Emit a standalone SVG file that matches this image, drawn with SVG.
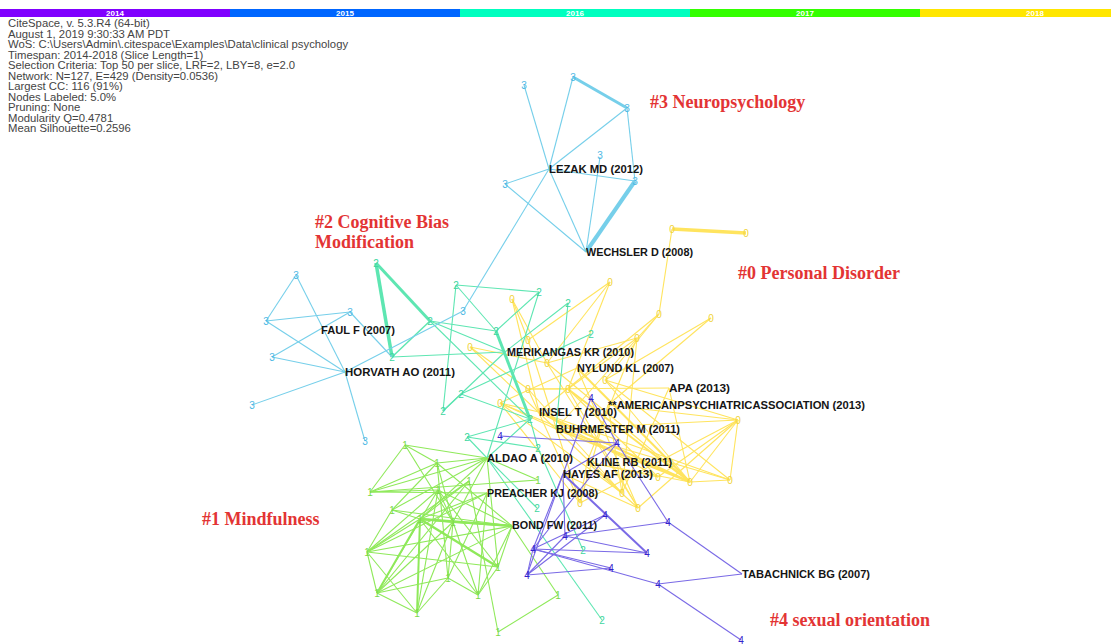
<svg xmlns="http://www.w3.org/2000/svg" width="1111" height="644" viewBox="0 0 1111 644">
<style>
.hd{font-family:"Liberation Sans",Arial,sans-serif;font-size:11.3px;fill:#444}
.yr{font-family:"Liberation Sans",Arial,sans-serif;font-size:8px;font-weight:bold;fill:#fff;text-anchor:middle}
.cl{font-family:"Liberation Serif","Times New Roman",serif;font-size:18px;font-weight:bold;fill:#e33434}
.lb{font-family:"Liberation Sans",Arial,sans-serif;font-size:11px;font-weight:bold;fill:#151515}
.dg{font-family:"Liberation Sans",Arial,sans-serif;font-size:10px;text-anchor:middle}
.d0{fill:#efd33a}.d1{fill:#7bd94a}.d2{fill:#3ed6a0}.d3{fill:#4db8e4}.d4{fill:#3322cc}
.e0 line{stroke:#ffe45e;stroke-width:1.1}
.e1 line{stroke:#8fe95a;stroke-width:1.1}
.e2 line{stroke:#5ee6b2;stroke-width:1.1}
.e3 line{stroke:#76cfea;stroke-width:1.1}
.e4 line{stroke:#7a6ae6;stroke-width:1.1}
</style>
<rect width="1111" height="644" fill="#fff"/>
<g id="timebar">
<rect x="0" y="9" width="230" height="8" fill="#8000ff"/>
<rect x="230" y="9" width="230" height="8" fill="#0066ff"/>
<rect x="460" y="9" width="230" height="8" fill="#00ffbf"/>
<rect x="690" y="9" width="230" height="8" fill="#33ff00"/>
<rect x="920" y="9" width="191" height="8" fill="#ffe600"/>
<text class="yr" x="115" y="16">2014</text>
<text class="yr" x="345" y="16">2015</text>
<text class="yr" x="575" y="16">2016</text>
<text class="yr" x="805" y="16">2017</text>
<text class="yr" x="1035" y="16">2018</text>
</g>
<g id="header">
<text class="hd" x="8" y="27">CiteSpace, v. 5.3.R4 (64-bit)</text>
<text class="hd" x="8" y="37.5">August 1, 2019 9:30:33 AM PDT</text>
<text class="hd" x="8" y="48">WoS: C:\Users\Admin\.citespace\Examples\Data\clinical psychology</text>
<text class="hd" x="8" y="58.5">Timespan: 2014-2018 (Slice Length=1)</text>
<text class="hd" x="8" y="69">Selection Criteria: Top 50 per slice, LRF=2, LBY=8, e=2.0</text>
<text class="hd" x="8" y="79.5">Network: N=127, E=429 (Density=0.0536)</text>
<text class="hd" x="8" y="90">Largest CC: 116 (91%)</text>
<text class="hd" x="8" y="100.5">Nodes Labeled: 5.0%</text>
<text class="hd" x="8" y="111">Pruning: None</text>
<text class="hd" x="8" y="121.5">Modularity Q=0.4781</text>
<text class="hd" x="8" y="132">Mean Silhouette=0.2596</text>
</g>
<g id="edges">
<g class="e0">
<line x1="672" y1="229" x2="746" y2="233" style="stroke-width:3.5"/>
<line x1="672" y1="229" x2="659" y2="314"/>
<line x1="659" y1="314" x2="556" y2="429"/>
<line x1="659" y1="314" x2="539" y2="412"/>
<line x1="659" y1="314" x2="605" y2="380"/>
<line x1="610" y1="282" x2="528" y2="340"/>
<line x1="610" y1="282" x2="568" y2="389"/>
<line x1="610" y1="282" x2="547" y2="363"/>
<line x1="512" y1="299" x2="547" y2="363"/>
<line x1="512" y1="299" x2="528" y2="340"/>
<line x1="512" y1="299" x2="539" y2="412"/>
<line x1="711" y1="318" x2="605" y2="380"/>
<line x1="711" y1="318" x2="608" y2="405"/>
<line x1="637" y1="338" x2="547" y2="363"/>
<line x1="637" y1="338" x2="568" y2="389"/>
<line x1="637" y1="338" x2="622" y2="493"/>
<line x1="637" y1="338" x2="587" y2="462"/>
<line x1="470" y1="347" x2="547" y2="363"/>
<line x1="470" y1="347" x2="556" y2="429"/>
<line x1="470" y1="347" x2="528" y2="389"/>
<line x1="528" y1="340" x2="580" y2="503"/>
<line x1="547" y1="363" x2="690" y2="482"/>
<line x1="547" y1="363" x2="638" y2="508"/>
<line x1="528" y1="389" x2="568" y2="389"/>
<line x1="528" y1="389" x2="669" y2="388"/>
<line x1="528" y1="389" x2="622" y2="493"/>
<line x1="528" y1="389" x2="580" y2="503"/>
<line x1="568" y1="389" x2="690" y2="482" style="stroke-width:2"/>
<line x1="568" y1="389" x2="658" y2="477"/>
<line x1="568" y1="389" x2="638" y2="508"/>
<line x1="500" y1="403" x2="539" y2="412"/>
<line x1="500" y1="403" x2="556" y2="429"/>
<line x1="500" y1="403" x2="622" y2="493"/>
<line x1="500" y1="403" x2="580" y2="503"/>
<line x1="500" y1="403" x2="690" y2="482"/>
<line x1="605" y1="380" x2="690" y2="482"/>
<line x1="605" y1="380" x2="730" y2="480"/>
<line x1="738" y1="420" x2="690" y2="482"/>
<line x1="738" y1="420" x2="730" y2="480"/>
<line x1="738" y1="420" x2="658" y2="477"/>
<line x1="738" y1="420" x2="638" y2="508"/>
<line x1="738" y1="420" x2="605" y2="380"/>
<line x1="738" y1="420" x2="608" y2="405"/>
<line x1="738" y1="420" x2="580" y2="503"/>
<line x1="730" y1="480" x2="690" y2="482"/>
<line x1="658" y1="477" x2="587" y2="462"/>
<line x1="622" y1="493" x2="556" y2="429"/>
<line x1="638" y1="508" x2="563" y2="474"/>
<line x1="580" y1="503" x2="587" y2="462"/>
<line x1="577" y1="368" x2="690" y2="482" style="stroke-width:2"/>
<line x1="577" y1="368" x2="638" y2="508"/>
<line x1="577" y1="368" x2="500" y2="403"/>
<line x1="669" y1="388" x2="690" y2="482"/>
<line x1="669" y1="388" x2="622" y2="493"/>
<line x1="608" y1="405" x2="622" y2="493"/>
<line x1="608" y1="405" x2="580" y2="503"/>
<line x1="539" y1="412" x2="730" y2="480"/>
<line x1="539" y1="412" x2="658" y2="477"/>
<line x1="539" y1="412" x2="690" y2="482" style="stroke-width:2"/>
<line x1="556" y1="429" x2="730" y2="480"/>
<line x1="556" y1="429" x2="738" y2="420"/>
<line x1="556" y1="429" x2="690" y2="482" style="stroke-width:2"/>
<line x1="587" y1="462" x2="690" y2="482"/>
<line x1="587" y1="462" x2="638" y2="508"/>
</g>
<g class="e2">
<line x1="376" y1="263" x2="392" y2="357" style="stroke-width:3.5"/>
<line x1="376" y1="263" x2="430" y2="321" style="stroke-width:3"/>
<line x1="430" y1="321" x2="392" y2="357" style="stroke-width:1.5"/>
<line x1="430" y1="321" x2="496" y2="331"/>
<line x1="430" y1="321" x2="505" y2="352"/>
<line x1="430" y1="321" x2="530" y2="419"/>
<line x1="392" y1="357" x2="505" y2="352"/>
<line x1="456" y1="285" x2="539" y2="292"/>
<line x1="456" y1="285" x2="496" y2="331"/>
<line x1="456" y1="285" x2="443" y2="411"/>
<line x1="539" y1="292" x2="487" y2="458"/>
<line x1="539" y1="292" x2="496" y2="331"/>
<line x1="568" y1="303" x2="505" y2="352"/>
<line x1="568" y1="303" x2="556" y2="429"/>
<line x1="591" y1="334" x2="461" y2="394"/>
<line x1="496" y1="331" x2="530" y2="419" style="stroke-width:3"/>
<line x1="461" y1="394" x2="443" y2="411"/>
<line x1="461" y1="394" x2="530" y2="419"/>
<line x1="443" y1="411" x2="505" y2="352"/>
<line x1="467" y1="437" x2="530" y2="419"/>
<line x1="467" y1="437" x2="538" y2="448"/>
<line x1="467" y1="437" x2="487" y2="458"/>
<line x1="487" y1="458" x2="537" y2="508"/>
<line x1="487" y1="458" x2="602" y2="620"/>
<line x1="538" y1="448" x2="583" y2="550"/>
<line x1="530" y1="419" x2="538" y2="448"/>
<line x1="530" y1="419" x2="487" y2="458"/>
</g>
<g class="e1">
<line x1="405" y1="445" x2="370" y2="492"/>
<line x1="405" y1="445" x2="487" y2="458"/>
<line x1="405" y1="445" x2="437" y2="463"/>
<line x1="405" y1="445" x2="453" y2="522"/>
<line x1="437" y1="463" x2="487" y2="458"/>
<line x1="437" y1="463" x2="370" y2="492"/>
<line x1="437" y1="463" x2="453" y2="522"/>
<line x1="437" y1="463" x2="448" y2="578"/>
<line x1="437" y1="463" x2="512" y2="526"/>
<line x1="370" y1="492" x2="487" y2="458"/>
<line x1="370" y1="492" x2="487" y2="493"/>
<line x1="370" y1="492" x2="538" y2="480"/>
<line x1="370" y1="492" x2="438" y2="490"/>
<line x1="392" y1="510" x2="437" y2="463"/>
<line x1="392" y1="510" x2="487" y2="458"/>
<line x1="392" y1="510" x2="512" y2="526"/>
<line x1="392" y1="510" x2="420" y2="519"/>
<line x1="392" y1="510" x2="367" y2="552"/>
<line x1="469" y1="481" x2="420" y2="519"/>
<line x1="469" y1="481" x2="367" y2="552"/>
<line x1="469" y1="481" x2="377" y2="593"/>
<line x1="469" y1="481" x2="498" y2="632"/>
<line x1="438" y1="490" x2="512" y2="526"/>
<line x1="438" y1="490" x2="367" y2="552"/>
<line x1="438" y1="490" x2="417" y2="613"/>
<line x1="487" y1="458" x2="420" y2="519"/>
<line x1="487" y1="458" x2="453" y2="522"/>
<line x1="487" y1="458" x2="498" y2="567"/>
<line x1="487" y1="458" x2="538" y2="480"/>
<line x1="487" y1="493" x2="420" y2="519"/>
<line x1="487" y1="493" x2="367" y2="552"/>
<line x1="487" y1="493" x2="448" y2="578"/>
<line x1="487" y1="493" x2="478" y2="595"/>
<line x1="512" y1="526" x2="420" y2="519" style="stroke-width:2.5"/>
<line x1="512" y1="526" x2="367" y2="552"/>
<line x1="512" y1="526" x2="377" y2="593"/>
<line x1="512" y1="526" x2="453" y2="522" style="stroke-width:2"/>
<line x1="512" y1="526" x2="498" y2="567"/>
<line x1="512" y1="526" x2="478" y2="595"/>
<line x1="512" y1="526" x2="558" y2="595"/>
<line x1="420" y1="519" x2="417" y2="613" style="stroke-width:2"/>
<line x1="420" y1="519" x2="498" y2="567" style="stroke-width:2.5"/>
<line x1="420" y1="519" x2="478" y2="595"/>
<line x1="420" y1="519" x2="377" y2="593" style="stroke-width:2"/>
<line x1="420" y1="519" x2="453" y2="522" style="stroke-width:2"/>
<line x1="420" y1="519" x2="367" y2="552"/>
<line x1="367" y1="552" x2="377" y2="593"/>
<line x1="367" y1="552" x2="417" y2="613"/>
<line x1="367" y1="552" x2="498" y2="567"/>
<line x1="377" y1="593" x2="417" y2="613"/>
<line x1="377" y1="593" x2="438" y2="490"/>
<line x1="377" y1="593" x2="453" y2="522"/>
<line x1="417" y1="613" x2="448" y2="578"/>
<line x1="417" y1="613" x2="453" y2="522"/>
<line x1="478" y1="595" x2="453" y2="522"/>
<line x1="478" y1="595" x2="498" y2="567"/>
<line x1="478" y1="595" x2="448" y2="578"/>
<line x1="498" y1="567" x2="438" y2="490"/>
<line x1="453" y1="522" x2="448" y2="578"/>
<line x1="448" y1="578" x2="377" y2="593"/>
<line x1="558" y1="595" x2="498" y2="632"/>
<line x1="438" y1="490" x2="453" y2="522"/>
</g>
<g class="e3">
<line x1="524" y1="85" x2="549" y2="169"/>
<line x1="549" y1="169" x2="586" y2="252"/>
<line x1="573" y1="77" x2="627" y2="108" style="stroke-width:3"/>
<line x1="573" y1="77" x2="549" y2="169"/>
<line x1="627" y1="108" x2="549" y2="169"/>
<line x1="627" y1="108" x2="635" y2="181"/>
<line x1="549" y1="169" x2="635" y2="181"/>
<line x1="635" y1="181" x2="586" y2="252" style="stroke-width:4"/>
<line x1="505" y1="184" x2="549" y2="169"/>
<line x1="505" y1="184" x2="586" y2="252"/>
<line x1="600" y1="157" x2="586" y2="252"/>
<line x1="549" y1="169" x2="463" y2="311"/>
<line x1="463" y1="311" x2="345" y2="372"/>
<line x1="296" y1="275" x2="266" y2="321"/>
<line x1="296" y1="275" x2="345" y2="372"/>
<line x1="345" y1="372" x2="365" y2="441"/>
<line x1="266" y1="321" x2="350" y2="312"/>
<line x1="266" y1="321" x2="345" y2="372"/>
<line x1="272" y1="357" x2="350" y2="312"/>
<line x1="272" y1="357" x2="345" y2="372"/>
<line x1="252" y1="405" x2="345" y2="372"/>
<line x1="350" y1="312" x2="392" y2="357"/>
</g>
<g class="e4">
<line x1="500" y1="436" x2="617" y2="443"/>
<line x1="591" y1="398" x2="617" y2="443"/>
<line x1="591" y1="398" x2="563" y2="474"/>
<line x1="617" y1="443" x2="563" y2="474"/>
<line x1="617" y1="443" x2="533" y2="549"/>
<line x1="617" y1="443" x2="668" y2="522"/>
<line x1="563" y1="474" x2="533" y2="549"/>
<line x1="563" y1="474" x2="527" y2="575"/>
<line x1="563" y1="474" x2="647" y2="553" style="stroke-width:2"/>
<line x1="563" y1="474" x2="565" y2="536"/>
<line x1="565" y1="536" x2="668" y2="522"/>
<line x1="533" y1="549" x2="605" y2="515"/>
<line x1="533" y1="549" x2="647" y2="553"/>
<line x1="533" y1="549" x2="611" y2="568"/>
<line x1="533" y1="549" x2="658" y2="584"/>
<line x1="527" y1="575" x2="533" y2="549"/>
<line x1="527" y1="575" x2="605" y2="515"/>
<line x1="527" y1="575" x2="565" y2="536"/>
<line x1="527" y1="575" x2="611" y2="568"/>
<line x1="668" y1="522" x2="742" y2="574"/>
<line x1="658" y1="584" x2="742" y2="574"/>
<line x1="658" y1="584" x2="741" y2="640"/>
<line x1="565" y1="536" x2="647" y2="553"/>
</g>
</g>
<g id="nodes">
<g id="c3-1"><text class="dg d3" x="524" y="89">3</text></g>
<g id="c3-2"><text class="dg d3" x="573" y="81">3</text></g>
<g id="c3-3"><text class="dg d3" x="627" y="112">3</text></g>
<g id="c3-4"><text class="dg d3" x="600" y="159">3</text></g>
<g id="c3-5"><text class="dg d3" x="635" y="185">3</text></g>
<g id="c3-6"><text class="dg d3" x="505" y="188">3</text></g>
<g id="c3-7"><text class="dg d3" x="463" y="315">3</text></g>
<g id="c3-a"><text class="dg d3" x="296" y="279">3</text></g>
<g id="c3-b"><text class="dg d3" x="266" y="325">3</text></g>
<g id="c3-c"><text class="dg d3" x="350" y="316">3</text></g>
<g id="c3-d"><text class="dg d3" x="272" y="361">3</text></g>
<g id="c3-f"><text class="dg d3" x="252" y="409">3</text></g>
<g id="c3-g"><text class="dg d3" x="365" y="445">3</text></g>
<g id="t1"><text class="dg d2" x="376" y="267">2</text></g>
<g id="t2"><text class="dg d2" x="430" y="325">2</text></g>
<g id="t3"><text class="dg d2" x="392" y="361">2</text></g>
<g id="t4"><text class="dg d2" x="456" y="289">2</text></g>
<g id="t5"><text class="dg d2" x="539" y="296">2</text></g>
<g id="t6"><text class="dg d2" x="568" y="307">2</text></g>
<g id="t7"><text class="dg d2" x="591" y="338">2</text></g>
<g id="t8"><text class="dg d2" x="496" y="335">2</text></g>
<g id="t9"><text class="dg d2" x="461" y="398">2</text></g>
<g id="t10"><text class="dg d2" x="443" y="415">2</text></g>
<g id="t11"><text class="dg d2" x="467" y="441">2</text></g>
<g id="t12"><text class="dg d2" x="530" y="423">2</text></g>
<g id="t13"><text class="dg d2" x="538" y="452">2</text></g>
<g id="t14"><text class="dg d2" x="537" y="512">2</text></g>
<g id="t15"><text class="dg d2" x="583" y="554">2</text></g>
<g id="t16"><text class="dg d2" x="602" y="624">2</text></g>
<g id="g1"><text class="dg d1" x="405" y="449">1</text></g>
<g id="g2"><text class="dg d1" x="437" y="467">1</text></g>
<g id="g3"><text class="dg d1" x="370" y="496">1</text></g>
<g id="g4"><text class="dg d1" x="392" y="514">1</text></g>
<g id="g5"><text class="dg d1" x="469" y="485">1</text></g>
<g id="g6"><text class="dg d1" x="367" y="556">1</text></g>
<g id="g7"><text class="dg d1" x="377" y="597">1</text></g>
<g id="g8"><text class="dg d1" x="417" y="617">1</text></g>
<g id="g9"><text class="dg d1" x="478" y="599">1</text></g>
<g id="g10"><text class="dg d1" x="498" y="571">1</text></g>
<g id="g11"><text class="dg d1" x="420" y="523">1</text></g>
<g id="g12"><text class="dg d1" x="438" y="494">1</text></g>
<g id="g13"><text class="dg d1" x="453" y="526">1</text></g>
<g id="g14"><text class="dg d1" x="448" y="582">1</text></g>
<g id="g15"><text class="dg d1" x="498" y="636">1</text></g>
<g id="g16"><text class="dg d1" x="558" y="599">1</text></g>
<g id="g17"><text class="dg d1" x="538" y="484">1</text></g>
<g id="y1"><text class="dg d0" x="672" y="233">0</text></g>
<g id="y2"><text class="dg d0" x="746" y="237">0</text></g>
<g id="y3"><text class="dg d0" x="610" y="286">0</text></g>
<g id="y4"><text class="dg d0" x="512" y="303">0</text></g>
<g id="y5"><text class="dg d0" x="659" y="318">0</text></g>
<g id="y6"><text class="dg d0" x="711" y="322">0</text></g>
<g id="y7"><text class="dg d0" x="637" y="342">0</text></g>
<g id="y8"><text class="dg d0" x="528" y="344">0</text></g>
<g id="y9"><text class="dg d0" x="470" y="351">0</text></g>
<g id="y10"><text class="dg d0" x="547" y="367">0</text></g>
<g id="y11"><text class="dg d0" x="528" y="393">0</text></g>
<g id="y12"><text class="dg d0" x="568" y="393">0</text></g>
<g id="y13"><text class="dg d0" x="500" y="407">0</text></g>
<g id="y14"><text class="dg d0" x="605" y="384">0</text></g>
<g id="y15"><text class="dg d0" x="738" y="424">0</text></g>
<g id="y16"><text class="dg d0" x="690" y="486">0</text></g>
<g id="y17"><text class="dg d0" x="730" y="484">0</text></g>
<g id="y18"><text class="dg d0" x="658" y="481">0</text></g>
<g id="y19"><text class="dg d0" x="622" y="497">0</text></g>
<g id="y20"><text class="dg d0" x="638" y="512">0</text></g>
<g id="y21"><text class="dg d0" x="580" y="507">0</text></g>
<g id="p1"><text class="dg d4" x="500" y="440">4</text></g>
<g id="p2"><text class="dg d4" x="617" y="447">4</text></g>
<g id="p3"><text class="dg d4" x="591" y="402">4</text></g>
<g id="p4"><text class="dg d4" x="565" y="540">4</text></g>
<g id="p5"><text class="dg d4" x="533" y="553">4</text></g>
<g id="p6"><text class="dg d4" x="527" y="579">4</text></g>
<g id="p7"><text class="dg d4" x="605" y="519">4</text></g>
<g id="p8"><text class="dg d4" x="668" y="526">4</text></g>
<g id="p9"><text class="dg d4" x="647" y="557">4</text></g>
<g id="p10"><text class="dg d4" x="611" y="572">4</text></g>
<g id="p11"><text class="dg d4" x="658" y="588">4</text></g>
<g id="p12"><text class="dg d4" x="741" y="644">4</text></g>
<g id="lezak"><text class="lb" x="549" y="173" textLength="94" lengthAdjust="spacingAndGlyphs">LEZAK MD (2012)</text></g>
<g id="wechsler"><text class="lb" x="586" y="256" textLength="107" lengthAdjust="spacingAndGlyphs">WECHSLER D (2008)</text></g>
<g id="faul"><text class="lb" x="321" y="334" textLength="74" lengthAdjust="spacingAndGlyphs">FAUL F (2007)</text></g>
<g id="horvath"><text class="lb" x="345" y="376" textLength="110" lengthAdjust="spacingAndGlyphs">HORVATH AO (2011)</text></g>
<g id="merikangas"><text class="lb" x="507" y="356" textLength="127" lengthAdjust="spacingAndGlyphs">MERIKANGAS KR (2010)</text></g>
<g id="nylund"><text class="lb" x="577" y="372" textLength="97" lengthAdjust="spacingAndGlyphs">NYLUND KL (2007)</text></g>
<g id="apa"><text class="lb" x="669" y="392" textLength="61" lengthAdjust="spacingAndGlyphs">APA (2013)</text></g>
<g id="american"><text class="lb" x="608" y="409" textLength="257" lengthAdjust="spacingAndGlyphs">**AMERICANPSYCHIATRICASSOCIATION (2013)</text></g>
<g id="insel"><text class="lb" x="539" y="416" textLength="78" lengthAdjust="spacingAndGlyphs">INSEL T (2010)</text></g>
<g id="buhrmester"><text class="lb" x="556" y="433" textLength="124" lengthAdjust="spacingAndGlyphs">BUHRMESTER M (2011)</text></g>
<g id="aldao"><text class="lb" x="487" y="462" textLength="86" lengthAdjust="spacingAndGlyphs">ALDAO A (2010)</text></g>
<g id="kline"><text class="lb" x="587" y="466" textLength="85" lengthAdjust="spacingAndGlyphs">KLINE RB (2011)</text></g>
<g id="hayes"><text class="lb" x="563" y="478" textLength="90" lengthAdjust="spacingAndGlyphs">HAYES AF (2013)</text></g>
<g id="preacher"><text class="lb" x="487" y="497" textLength="111" lengthAdjust="spacingAndGlyphs">PREACHER KJ (2008)</text></g>
<g id="bond"><text class="lb" x="512" y="529" textLength="85" lengthAdjust="spacingAndGlyphs">BOND FW (2011)</text></g>
<g id="tabachnick"><text class="lb" x="742" y="578" textLength="128" lengthAdjust="spacingAndGlyphs">TABACHNICK BG (2007)</text></g>
</g>
<g id="clusters">
<text class="cl" x="650" y="108">#3 Neuropsychology</text>
<text class="cl" x="315" y="228">#2 Cognitive Bias</text>
<text class="cl" x="315" y="248">Modification</text>
<text class="cl" x="738" y="279">#0 Personal Disorder</text>
<text class="cl" x="202" y="525">#1 Mindfulness</text>
<text class="cl" x="770" y="626">#4 sexual orientation</text>
</g>
</svg>
